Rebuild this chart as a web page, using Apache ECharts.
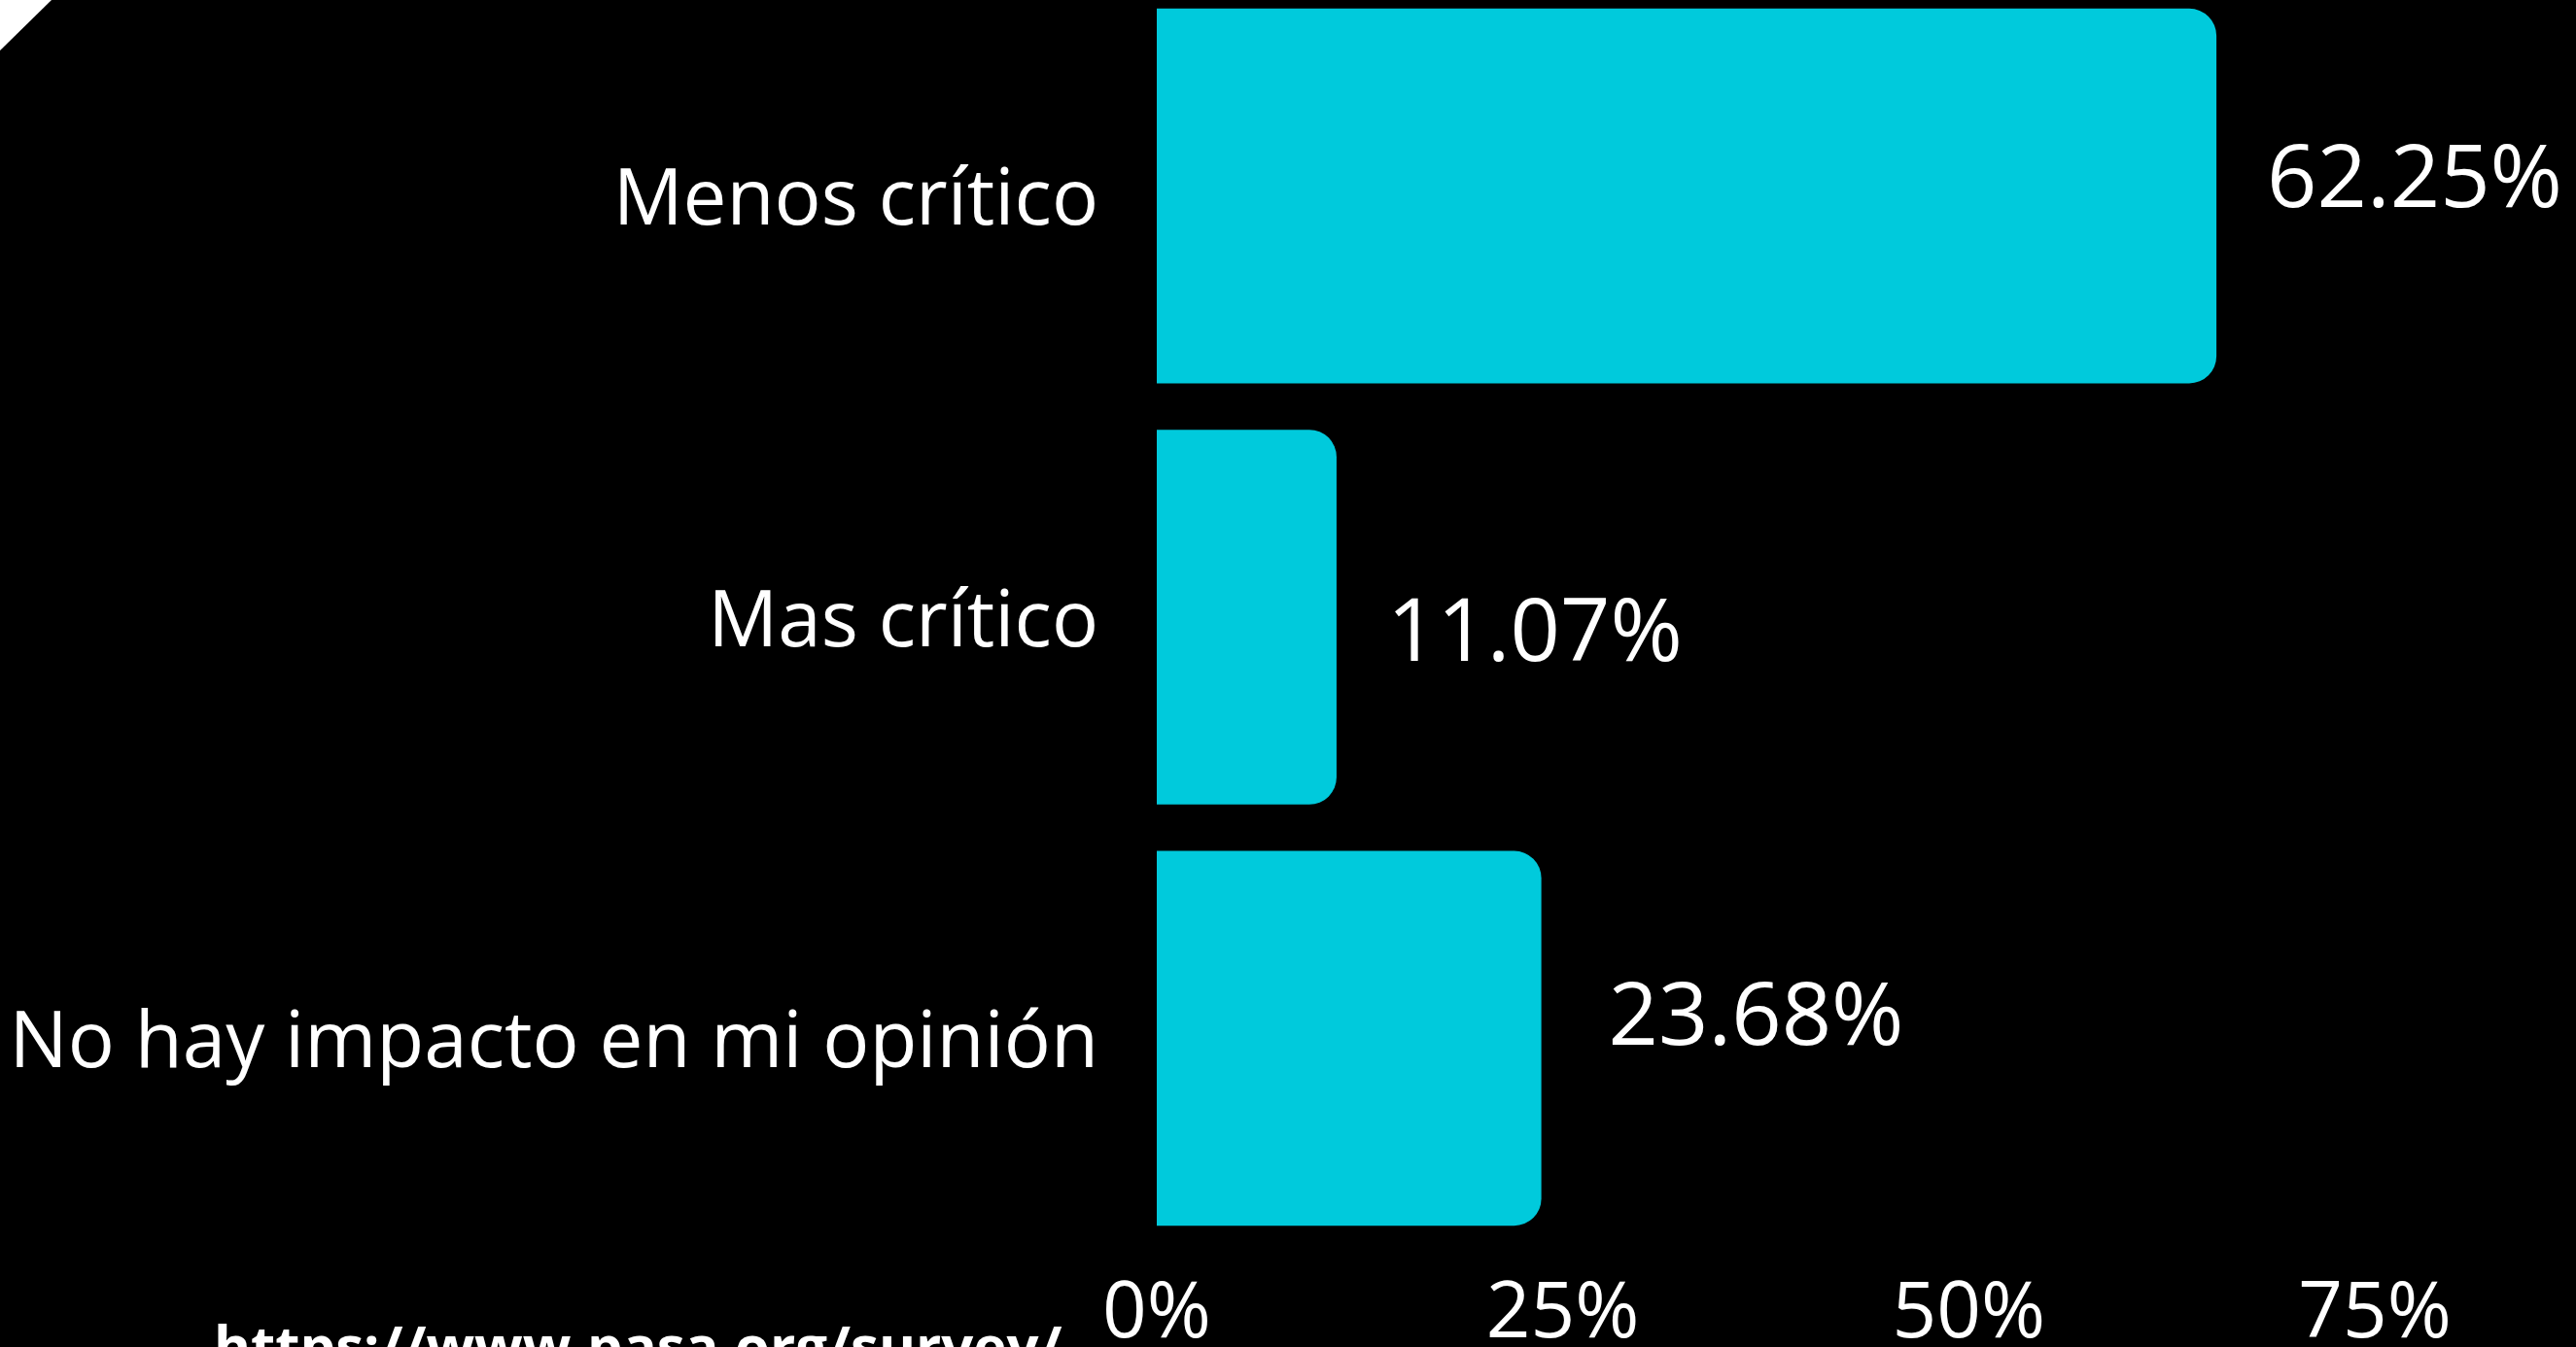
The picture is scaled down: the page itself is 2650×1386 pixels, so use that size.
<!DOCTYPE html>
<html>
<head>
<meta charset="utf-8">
<script src="https://cdn.jsdelivr.net/npm/echarts@6/dist/echarts.min.js"></script>
<style>
html,body{margin:0;padding:0;background:#000;}
#chart{width:2650px;height:1386px;}
</style>
</head>
<body>
<div id="chart"></div>
<script>
// ---- data ----
const categories = ['Menos crítico', 'Mas crítico', 'No hay impacto en mi opinión'];
const values = [65.25, 11.07, 23.68];
const valueLabels = ['62.25%', '11.07%', '23.68%'];
const tickLabels = ['0%', '25%', '50%', '75%'];
const sourceText = 'https://www.pasa.org/survey/';

// ---- options ----
const labelOffsets = [[0, -14], [0, 19], [17, -19]];
const chart = echarts.init(document.getElementById('chart'), null, {renderer: 'canvas'});
const font = '"Open Sans", "Noto Sans", sans-serif';

chart.setOption({
  backgroundColor: '#000000',
  animation: false,
  grid: {left: 1190, right: 207, top: -15, height: 1300, containLabel: false, outerBoundsMode: 'none'},
  xAxis: {
    type: 'value', min: 0, max: 75, interval: 25,
    axisLine: {show: false}, axisTick: {show: false}, splitLine: {show: false},
    axisLabel: {
      color: '#ffffff', fontFamily: font, fontSize: 80, margin: 28,
      formatter: function (v) { return tickLabels[Math.round(v / 25)]; }
    }
  },
  yAxis: {
    type: 'category', data: categories, inverse: true,
    axisLine: {show: false}, axisTick: {show: false}, splitLine: {show: false},
    axisLabel: {
      color: '#ffffff', fontFamily: font, fontSize: 80, margin: 60,
      formatter: function (v) { return '{a|' + v + '}'; },
      rich: {a: {color: '#ffffff', fontFamily: font, fontSize: 80, padding: [14, 0, 0, 0]}}
    }
  },
  graphic: [
    {type: 'polygon', shape: {points: [[0, 0], [53, 0], [0, 52]]}, style: {fill: '#ffffff'}},
    {type: 'text', left: 220, top: 1360, style: {text: sourceText, fill: '#ffffff', font: 'bold 58px ' + font}}
  ],
  series: [{
    type: 'bar',
    barCategoryGap: '11%',
    data: values.map(function (v, i) {
      return {
        value: v,
        label: {formatter: valueLabels[i], offset: labelOffsets[i]}
      };
    }),
    itemStyle: {color: '#00CADC', borderRadius: [0, 28, 28, 0]},
    label: {show: true, position: 'right', distance: 52, color: '#ffffff', fontFamily: font, fontSize: 90}
  }]
});
</script>
</body>
</html>
